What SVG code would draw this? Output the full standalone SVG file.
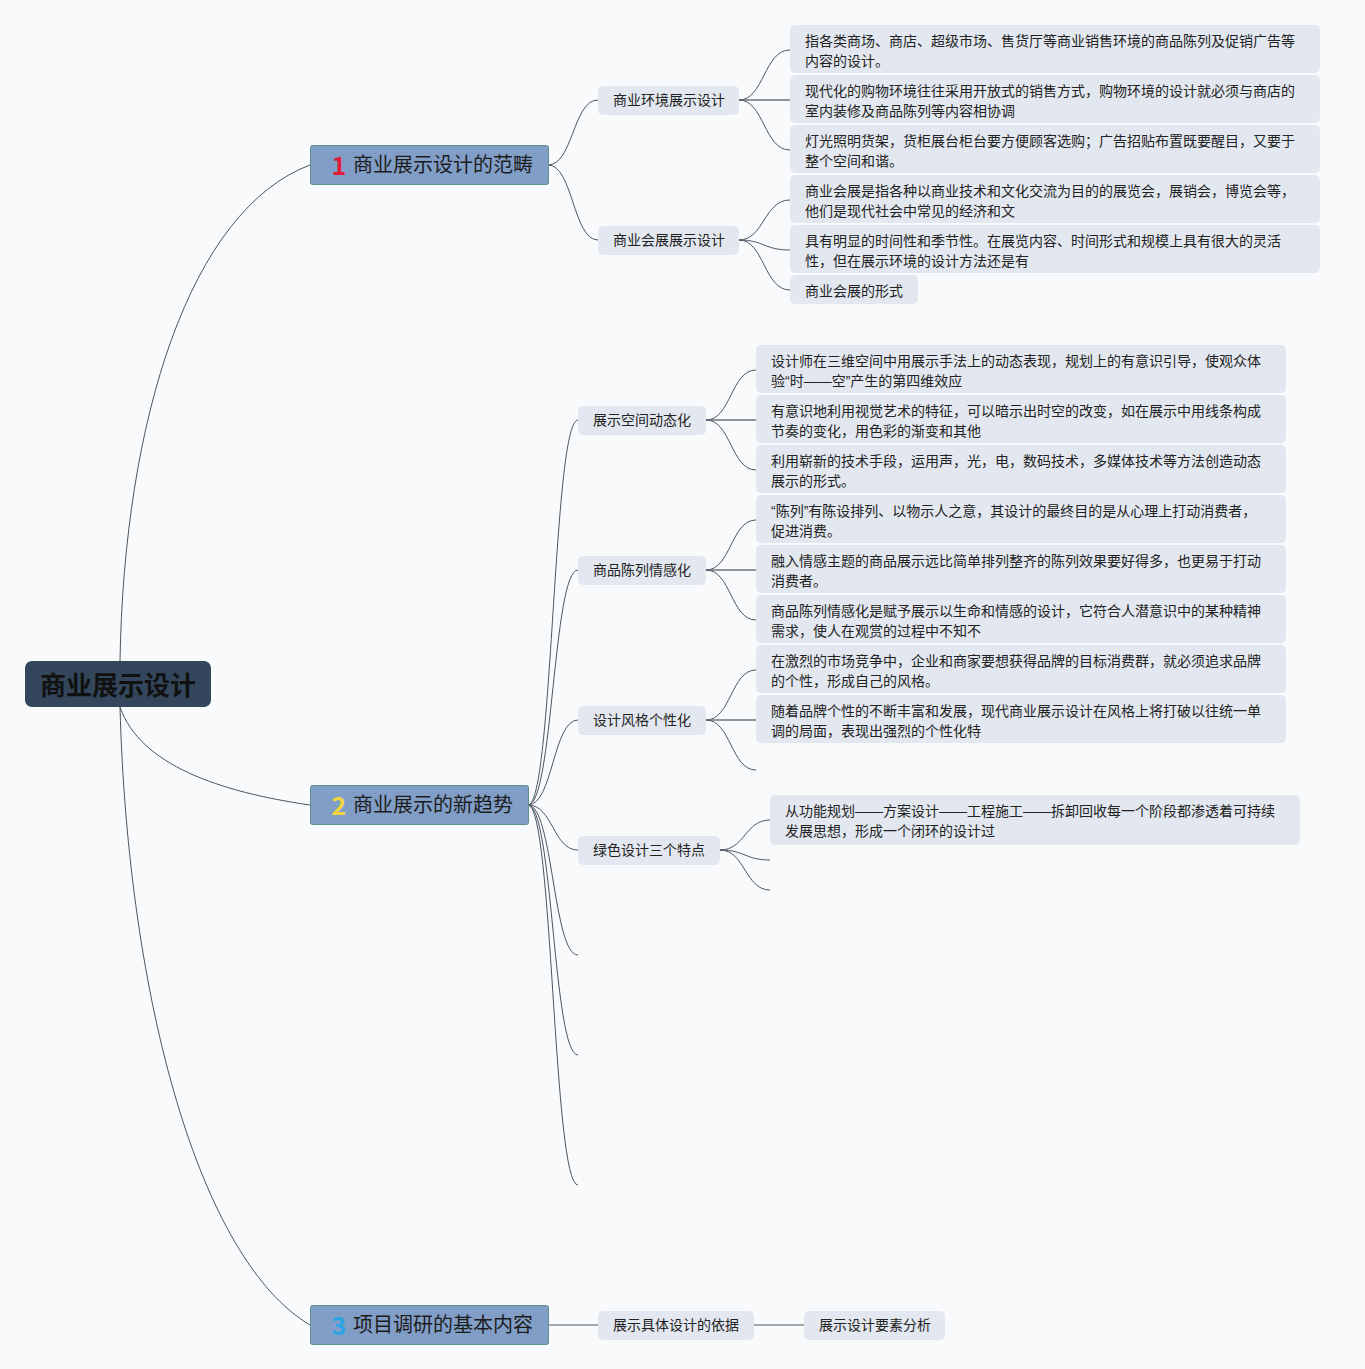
<svg xmlns="http://www.w3.org/2000/svg" width="1365" height="1369" viewBox="0 0 1365 1369">
<style>
text{font-family:"Noto Sans CJK SC","Noto Sans",sans-serif;}
.bg{fill:#f9fafb;}
.root{fill:#33465c;}
.roott{font-size:26px;font-weight:bold;fill:#111111;}
.br{fill:#819ec7;stroke:#5f9090;stroke-width:1;}
.brt{font-size:20px;fill:#1c1c1c;}
.num{font-size:25px;font-weight:bold;}
.sub{fill:#e3e8f0;}
.subt{font-size:14px;fill:#222222;}
.leaf{fill:#e3e8f0;}
.leaft{font-size:14px;fill:#222222;}
.q{font-family:"Liberation Sans",sans-serif;}
.c{fill:none;stroke:#4b5563;stroke-width:1;}
.h{fill:none;stroke:#6b7280;stroke-width:1.6;}
</style>
<rect class="bg" x="0" y="0" width="1365" height="1369"/>
<g id="connectors">
<path class="c" d="M120,661 C124,420 190,210 310,165"/>
<path class="c" d="M120,707 C140,765 220,792 310,805"/>
<path class="c" d="M120,707 C128,1000 200,1260 310,1325"/>
<path class="c" d="M548,165 C573,165 573,100 598,100"/>
<path class="c" d="M548,165 C573,165 573,240 598,240"/>
<path class="c" d="M739,100 C764,100 764,50 790,50"/>
<path class="h" d="M739,100 L790,100"/>
<path class="c" d="M739,100 C764,100 764,150 790,150"/>
<path class="c" d="M739,240 C764,240 764,200 790,200"/>
<path class="c" d="M739,240 C764,240 764,250 790,250"/>
<path class="c" d="M739,240 C764,240 764,290 790,290"/>
<path class="c" d="M528,805 C553,805 553,420 578,420"/>
<path class="c" d="M528,805 C553,805 553,570 578,570"/>
<path class="c" d="M528,805 C553,805 553,720 578,720"/>
<path class="c" d="M528,805 C553,805 553,850 578,850"/>
<path class="c" d="M528,805 C553,805 553,955 578,955"/>
<path class="c" d="M528,805 C553,805 553,1055 578,1055"/>
<path class="c" d="M528,805 C553,805 553,1185 578,1185"/>
<path class="c" d="M706,420 C731,420 731,370 756,370"/>
<path class="h" d="M706,420 L756,420"/>
<path class="c" d="M706,420 C731,420 731,470 756,470"/>
<path class="c" d="M706,570 C731,570 731,520 756,520"/>
<path class="h" d="M706,570 L756,570"/>
<path class="c" d="M706,570 C731,570 731,620 756,620"/>
<path class="c" d="M706,720 C731,720 731,670 756,670"/>
<path class="h" d="M706,720 L756,720"/>
<path class="c" d="M706,720 C731,720 731,770 756,770"/>
<path class="c" d="M720,850 C745,850 745,820 770,820"/>
<path class="c" d="M720,850 C745,850 745,860 770,860"/>
<path class="c" d="M720,850 C745,850 745,890 770,890"/>
<path class="c" d="M548,1325 L598,1325"/>
<path class="c" d="M754,1325 L804,1325"/>
</g>
<g id="root">
<rect class="root" x="25" y="661" width="186" height="46" rx="7"/>
<text class="roott" x="118" y="695" text-anchor="middle">商业展示设计</text>
</g>
<g id="b1">
<rect class="br" x="310.5" y="145.5" width="238" height="39" rx="2"/>
<text class="num" x="339" y="175" text-anchor="middle" fill="#e11d3a">1</text>
<text class="brt" x="353" y="172">商业展示设计的范畴</text>
</g>
<g id="b2">
<rect class="br" x="310.5" y="785.5" width="218" height="39" rx="2"/>
<text class="num" x="339" y="815" text-anchor="middle" fill="#f2d740">2</text>
<text class="brt" x="353" y="812">商业展示的新趋势</text>
</g>
<g id="b3">
<rect class="br" x="310.5" y="1305.5" width="238" height="39" rx="2"/>
<text class="num" x="339" y="1335" text-anchor="middle" fill="#2ba3e3">3</text>
<text class="brt" x="353" y="1332">项目调研的基本内容</text>
</g>
<g id="s1">
<rect class="sub" x="598" y="86" width="141" height="29" rx="5"/>
<text class="subt" x="613" y="105">商业环境展示设计</text>
</g>
<g id="s2">
<rect class="sub" x="598" y="226" width="141" height="29" rx="5"/>
<text class="subt" x="613" y="245">商业会展展示设计</text>
</g>
<g id="l1">
<rect class="leaf" x="790" y="25" width="530" height="48" rx="5"/>
<text class="leaft" x="805" y="46">指各类商场、商店、超级市场、售货厅等商业销售环境的商品陈列及促销广告等</text>
<text class="leaft" x="805" y="66">内容的设计。</text>
</g>
<g id="l2">
<rect class="leaf" x="790" y="75" width="530" height="48" rx="5"/>
<text class="leaft" x="805" y="96">现代化的购物环境往往采用开放式的销售方式，购物环境的设计就必须与商店的</text>
<text class="leaft" x="805" y="116">室内装修及商品陈列等内容相协调</text>
</g>
<g id="l3">
<rect class="leaf" x="790" y="125" width="530" height="48" rx="5"/>
<text class="leaft" x="805" y="146">灯光照明货架，货柜展台柜台要方便顾客选购；广告招贴布置既要醒目，又要于</text>
<text class="leaft" x="805" y="166">整个空间和谐。</text>
</g>
<g id="l4">
<rect class="leaf" x="790" y="175" width="530" height="48" rx="5"/>
<text class="leaft" x="805" y="196">商业会展是指各种以商业技术和文化交流为目的的展览会，展销会，博览会等，</text>
<text class="leaft" x="805" y="216">他们是现代社会中常见的经济和文</text>
</g>
<g id="l5">
<rect class="leaf" x="790" y="225" width="530" height="48" rx="5"/>
<text class="leaft" x="805" y="246">具有明显的时间性和季节性。在展览内容、时间形式和规模上具有很大的灵活</text>
<text class="leaft" x="805" y="266">性，但在展示环境的设计方法还是有</text>
</g>
<g id="l6">
<rect class="leaf" x="790" y="275" width="128" height="29" rx="5"/>
<text class="leaft" x="805" y="296">商业会展的形式</text>
</g>
<g id="s3">
<rect class="sub" x="578" y="406" width="128" height="29" rx="5"/>
<text class="subt" x="593" y="425">展示空间动态化</text>
</g>
<g id="s4">
<rect class="sub" x="578" y="556" width="128" height="29" rx="5"/>
<text class="subt" x="593" y="575">商品陈列情感化</text>
</g>
<g id="s5">
<rect class="sub" x="578" y="706" width="128" height="29" rx="5"/>
<text class="subt" x="593" y="725">设计风格个性化</text>
</g>
<g id="s6">
<rect class="sub" x="578" y="836" width="142" height="29" rx="5"/>
<text class="subt" x="593" y="855">绿色设计三个特点</text>
</g>
<g id="l7">
<rect class="leaf" x="756" y="345" width="530" height="48" rx="5"/>
<text class="leaft" x="771" y="366">设计师在三维空间中用展示手法上的动态表现，规划上的有意识引导，使观众体</text>
<text class="leaft" x="771" y="386">验<tspan class="q">“</tspan>时<tspan class="q">——</tspan>空<tspan class="q">”</tspan>产生的第四维效应</text>
</g>
<g id="l8">
<rect class="leaf" x="756" y="395" width="530" height="48" rx="5"/>
<text class="leaft" x="771" y="416">有意识地利用视觉艺术的特征，可以暗示出时空的改变，如在展示中用线条构成</text>
<text class="leaft" x="771" y="436">节奏的变化，用色彩的渐变和其他</text>
</g>
<g id="l9">
<rect class="leaf" x="756" y="445" width="530" height="48" rx="5"/>
<text class="leaft" x="771" y="466">利用崭新的技术手段，运用声，光，电，数码技术，多媒体技术等方法创造动态</text>
<text class="leaft" x="771" y="486">展示的形式。</text>
</g>
<g id="l10">
<rect class="leaf" x="756" y="495" width="530" height="48" rx="5"/>
<text class="leaft" x="771" y="516"><tspan class="q">“</tspan>陈列<tspan class="q">”</tspan>有陈设排列、以物示人之意，其设计的最终目的是从心理上打动消费者，</text>
<text class="leaft" x="771" y="536">促进消费。</text>
</g>
<g id="l11">
<rect class="leaf" x="756" y="545" width="530" height="48" rx="5"/>
<text class="leaft" x="771" y="566">融入情感主题的商品展示远比简单排列整齐的陈列效果要好得多，也更易于打动</text>
<text class="leaft" x="771" y="586">消费者。</text>
</g>
<g id="l12">
<rect class="leaf" x="756" y="595" width="530" height="48" rx="5"/>
<text class="leaft" x="771" y="616">商品陈列情感化是赋予展示以生命和情感的设计，它符合人潜意识中的某种精神</text>
<text class="leaft" x="771" y="636">需求，使人在观赏的过程中不知不</text>
</g>
<g id="l13">
<rect class="leaf" x="756" y="645" width="530" height="48" rx="5"/>
<text class="leaft" x="771" y="666">在激烈的市场竞争中，企业和商家要想获得品牌的目标消费群，就必须追求品牌</text>
<text class="leaft" x="771" y="686">的个性，形成自己的风格。</text>
</g>
<g id="l14">
<rect class="leaf" x="756" y="695" width="530" height="48" rx="5"/>
<text class="leaft" x="771" y="716">随着品牌个性的不断丰富和发展，现代商业展示设计在风格上将打破以往统一单</text>
<text class="leaft" x="771" y="736">调的局面，表现出强烈的个性化特</text>
</g>
<g id="l15">
<rect class="leaf" x="770" y="795" width="530" height="50" rx="5"/>
<text class="leaft" x="785" y="816">从功能规划<tspan class="q">——</tspan>方案设计<tspan class="q">——</tspan>工程施工<tspan class="q">——</tspan>拆卸回收每一个阶段都渗透着可持续</text>
<text class="leaft" x="785" y="836">发展思想，形成一个闭环的设计过</text>
</g>
<g id="s7">
<rect class="sub" x="598" y="1311" width="156" height="29" rx="5"/>
<text class="subt" x="613" y="1330">展示具体设计的依据</text>
</g>
<g id="s8">
<rect class="sub" x="804" y="1311" width="141" height="29" rx="5"/>
<text class="subt" x="819" y="1330">展示设计要素分析</text>
</g>
</svg>
